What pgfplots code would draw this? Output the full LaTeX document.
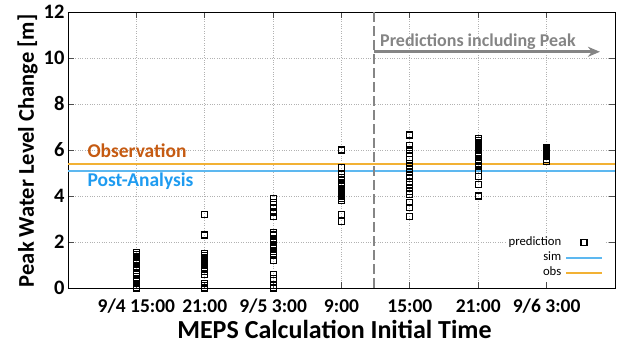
\documentclass[border=0pt]{standalone}
\usepackage{pgfplots}
\pgfplotsset{compat=1.18}
\usetikzlibrary{arrows.meta}
\usepackage{fontspec}
\setmainfont{Carlito}
\definecolor{obsc}{HTML}{F2B134}
\definecolor{simc}{HTML}{5DB8F0}
\definecolor{obstext}{HTML}{C55A11}
\definecolor{simtext}{HTML}{1E9BF0}
\definecolor{grayc}{HTML}{858585}
\pgfplotsset{
  longline/.style={legend image code/.code={\draw[##1, line width=1.5pt] (0pt,0pt) -- (36pt,0pt);}},
  midmark/.style={legend image code/.code={\draw[##1, mark repeat=2, mark phase=2] plot coordinates {(0pt,0pt)(18pt,0pt)(36pt,0pt)};}},
}
\begin{document}
\begin{tikzpicture}
\begin{axis}[
  name=ax,
  scale only axis,
  width=547pt, height=276pt,
  xmin=-1, xmax=7, ymin=0, ymax=12,
  xtick={0,1,2,3,4,5,6},
  xticklabels={9/4 15:00, 21:00, 9/5 3:00, 9:00, 15:00, 21:00, 9/6 3:00},
  ytick={0,2,4,6,8,10,12},
  /pgf/number format/assume math mode=true,
  xticklabel style={font=\fontsize{19.5}{22}\selectfont\bfseries, inner sep=0pt, text height=12.5pt, text depth=0pt, yshift=-12pt},
  yticklabel style={font=\fontsize{20.5}{24}\selectfont\bfseries},
  xlabel={MEPS Calculation Initial Time},
  ylabel={Peak Water Level Change [m]},
  xlabel style={font=\fontsize{26}{30}\selectfont\bfseries, at={(axis description cs:0.4872,0)}, anchor=base, inner sep=0pt, yshift=-51pt},
  ylabel style={font=\fontsize{22.5}{26}\selectfont\bfseries, at={(axis description cs:-0.0622,0.497)}, anchor=base, rotate=0},
  grid=major,
  major grid style={dotted, gray!60, line width=0.8pt},
  axis line style={line width=0.8pt},
  major tick length=6pt,
  tick style={line width=0.8pt, black!70},
  legend cell align=right,
  legend plot pos=right,
  legend style={at={(rel axis cs:1,0)}, anchor=south east, xshift=-10pt, yshift=6pt,
    draw=none, fill=white, font=\fontsize{12.7}{14}\selectfont, row sep=1pt, column sep=3pt,
    inner sep=2pt, nodes={inner sep=1pt, text height=9pt, text depth=3pt}},
]
\addplot[only marks, mark=square, mark size=3pt, mark options={line width=1.2pt, black}, midmark]
coordinates {
(0,1.55)(0,1.45)(0,1.35)(0,1.25)(0,1.15)(0,1.05)(0,0.95)(0,0.85)(0,0.75)(0,0.65)(0,0.4)(0,0.3)(0,0.2)(0,0.1)(0,0)(0,0.02)
(1,3.2)(1,2.3)(1,1.5)(1,1.4)(1,1.3)(1,1.2)(1,1.1)(1,1.0)(1,0.9)(1,0.8)(1,0.7)(1,0.6)(1,0.2)(1,0.1)(1,0)(1,0.02)
(2,3.9)(2,3.7)(2,3.5)(2,3.3)(2,3.1)(2,2.4)(2,2.3)(2,2.1)(2,2.0)(2,1.9)(2,1.8)(2,1.7)(2,1.6)(2,1.5)(2,1.4)(2,1.2)(2,0.6)(2,0.4)(2,0.1)(2,0)
(3,6.0)(3,5.25)(3,4.95)(3,4.8)(3,4.7)(3,4.6)(3,4.5)(3,4.4)(3,4.3)(3,4.2)(3,4.1)(3,4.0)(3,3.9)(3,3.8)(3,3.2)(3,2.9)
(4,6.65)(4,6.2)(4,6.0)(4,5.85)(4,5.6)(4,5.4)(4,5.3)(4,5.2)(4,5.05)(4,4.9)(4,4.75)(4,4.6)(4,4.5)(4,4.35)(4,4.2)(4,4.05)(4,3.7)(4,3.5)(4,3.1)
(5,6.5)(5,6.4)(5,6.3)(5,6.2)(5,6.1)(5,6.0)(5,5.9)(5,5.8)(5,5.7)(5,5.6)(5,5.5)(5,5.4)(5,5.3)(5,5.1)(5,4.85)(5,4.5)(5,4.0)
(6,6.1)(6,6.05)(6,6.0)(6,5.95)(6,5.9)(6,5.85)(6,5.8)(6,5.75)(6,5.7)(6,5.6)(6,5.5)
};
\addlegendentry{prediction}
\addplot[simc, line width=2pt, longline] coordinates {(-1,5.1)(7,5.1)};
\addlegendentry{sim}
\addplot[obsc, line width=2pt, longline] coordinates {(-1,5.41)(7,5.41)};
\addlegendentry{obs}
\addplot[grayc, line width=2pt, dash pattern=on 10pt off 4pt, forget plot] coordinates {(3.47,0)(3.47,12)};
\node[anchor=base west, text=obstext, font=\fontsize{19.5}{22}\selectfont\bfseries] at (axis cs:-0.766,5.68) {Observation};
\node[anchor=base west, text=simtext, font=\fontsize{19.5}{22}\selectfont\bfseries] at (axis cs:-0.766,4.41) {Post-Analysis};
\node[anchor=base west, inner sep=0pt, text=grayc, font=\fontsize{18}{21}\selectfont\bfseries] at (axis cs:3.563,10.52) {Predictions including Peak};
\draw[grayc, line width=3.2pt, -{Stealth[length=12pt,width=10pt]}] (axis cs:3.47,10.27) -- (axis cs:6.78,10.27);
\end{axis}
\pgfresetboundingbox
\path (ax.south west) ++(-68pt,-56pt) coordinate (bbl);
\path (ax.north east) ++(11pt,12pt) coordinate (btr);
\path[use as bounding box] (bbl) rectangle (btr);
\end{tikzpicture}
\end{document}
